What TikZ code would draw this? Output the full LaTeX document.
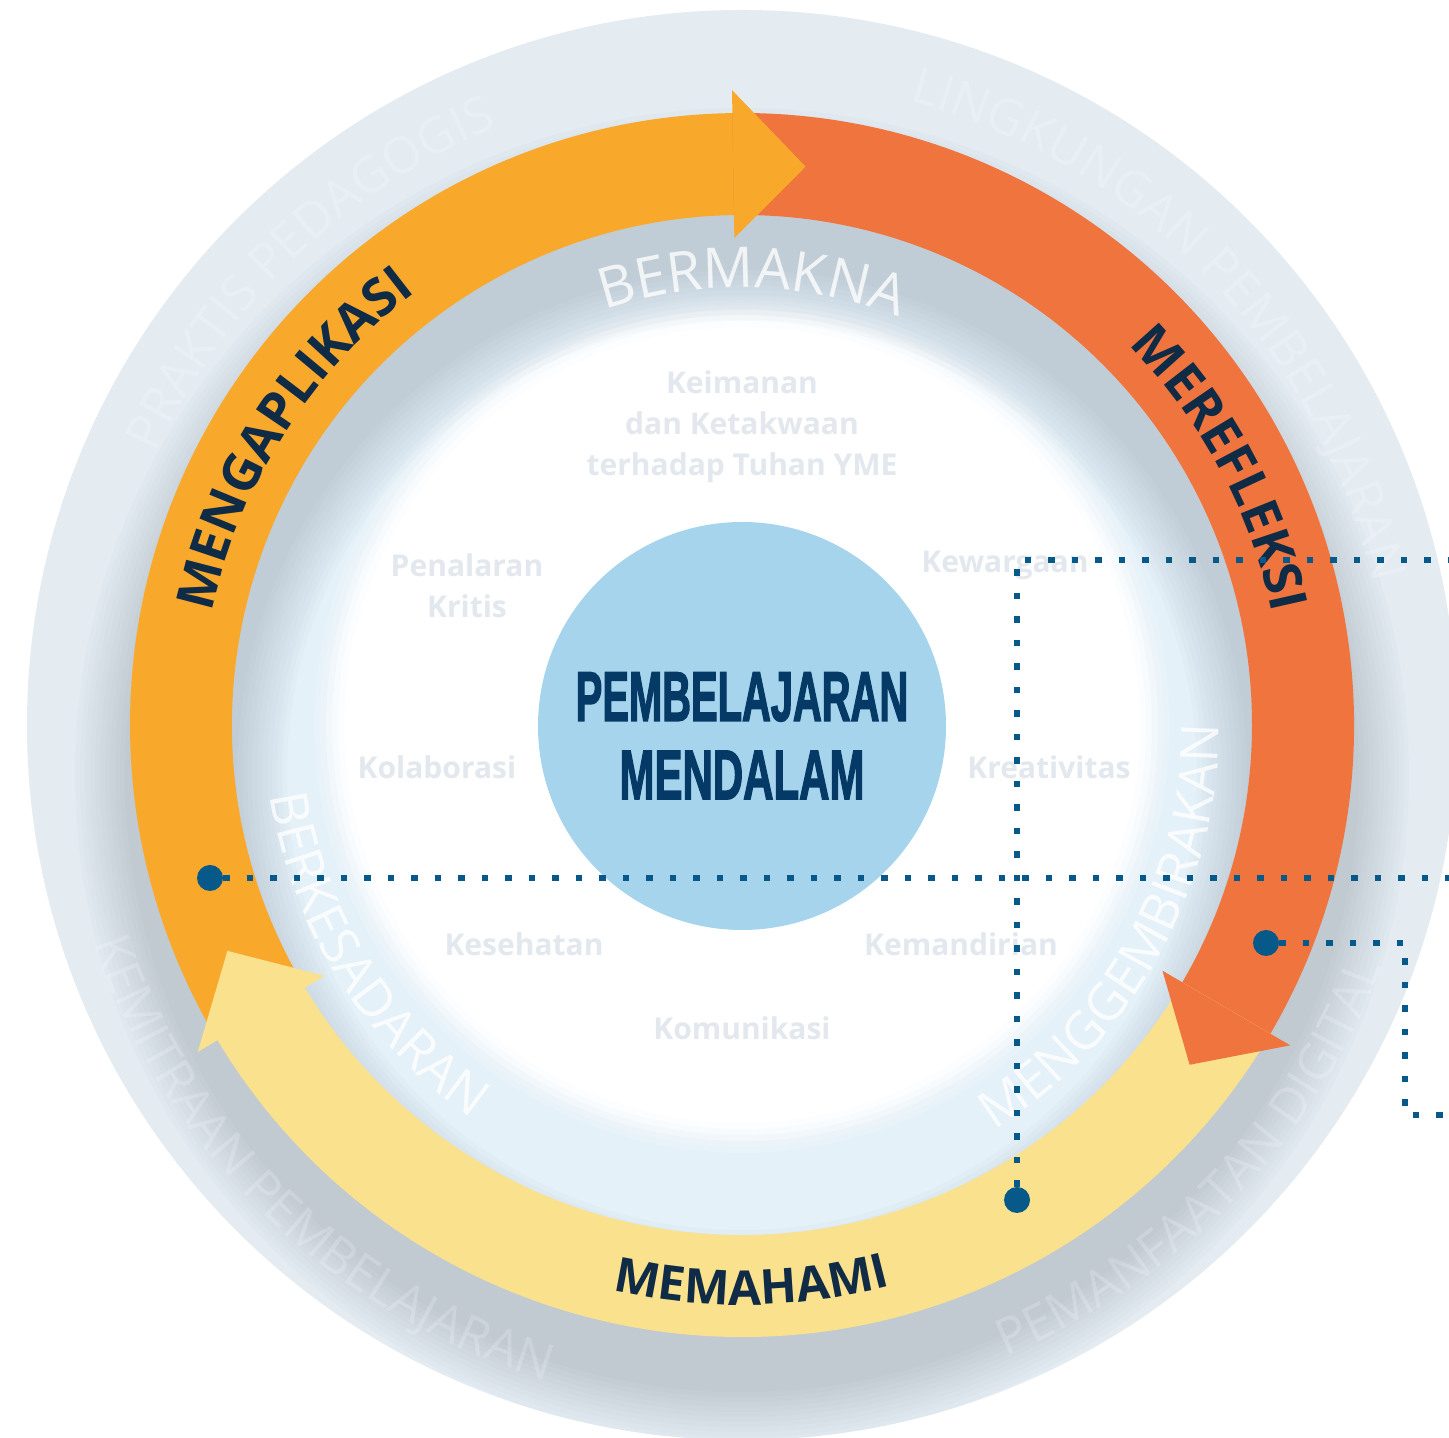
\documentclass[tikz,border=0pt]{standalone}
\usepackage{fontspec}
\setmainfont{Open Sans}
\newfontfamily\condfont[BoldFeatures={FakeBold=2.5}]{Liberation Sans}
\usetikzlibrary{decorations.text}

\definecolor{outerbg}{HTML}{E4ECF2}
\definecolor{bandbg}{HTML}{E4F1F9}
\definecolor{shadowc}{HTML}{7D8893}
\definecolor{amberc}{HTML}{F8A92C}
\definecolor{redc}{HTML}{F0743E}
\definecolor{yellowc}{HTML}{F9E18D}
\definecolor{navy}{HTML}{0F2B46}
\definecolor{centerc}{HTML}{A6D4EC}
\definecolor{centertext}{HTML}{063A66}
\definecolor{dotc}{HTML}{07598A}
\definecolor{greytext}{HTML}{E2E8EE}

\tikzset{
  dotline/.style={draw=dotc, line width=6.5pt, dash pattern=on 6.5pt off 17pt},
  bigdot/.style={circle, fill=dotc, minimum size=26pt, inner sep=0pt},
  glabel/.style={text=greytext, font=\bfseries\fontsize{30}{41}\selectfont, align=center},
  ctext/.style={text=centertext, font=\condfont\bfseries\fontsize{70}{70}\selectfont},
}

\begin{document}
\begin{tikzpicture}[x=1pt,y=1pt]
\useasboundingbox (0,0) rectangle (1449,1438);
\fill[white] (0,0) rectangle (1449,1438);

\begin{scope}[shift={(742,713)}]
  % background discs
  \fill[outerbg] (0,0) circle (715);
  \fill[bandbg] (0,0) circle (512);
  \foreach \r/\o in {428/0.12,422/0.22,416/0.35,410/0.5,404/0.7}
    \fill[white, opacity=\o] (0,0) circle (\r);
  \fill[white] (0,0) circle (398);

  % blurred drop shadow of the arrow ring
  \begin{scope}
    \clip (0,0) circle (715);
    \foreach \b in {5,10,...,55} {
      \pgfmathsetmacro\w{102+2*\b}
      \draw[shadowc, opacity=0.032, line width=\w pt] (0,-50) circle (561);
    }
  \end{scope}

  % arrow bodies
  \fill[amberc] (211:510) arc[start angle=211, end angle=90.6, radius=510]
     -- (90.6:612) arc[start angle=90.6, end angle=211, radius=612] -- cycle;
  \fill[redc] (90.9:510) arc[start angle=90.9, end angle=-30.6, radius=510]
     -- (-30.6:612) arc[start angle=-30.6, end angle=90.9, radius=612] -- cycle;
  \fill[yellowc] (-30.3:510) arc[start angle=-30.3, end angle=-149.3, radius=510]
     -- (-149.3:612) arc[start angle=-149.3, end angle=-30.3, radius=612] -- cycle;

  % arrow heads
  \fill[amberc] (90.9:487) -- (83.5:562) -- (90.9:635) -- cycle;
  \fill[redc] (-30.3:487) -- (-37.2:562) -- (-30.3:635) -- cycle;
  \fill[yellowc] (211:487) -- (203.7:562) -- (211:635) -- cycle;

  % arrow labels
  \path[decorate, decoration={text along path, text align=center,
     text={|\bfseries\fontsize{52}{52}\selectfont\color{navy}|MENGAPLIKASI}}]
     (187.5:542) arc[start angle=187.5, end angle=107.5, radius=542];
  \path[decorate, decoration={text along path, text align=center,
     text={|\bfseries\fontsize{52}{52}\selectfont\color{navy}|MEREFLEKSI}}]
     (68.2:542) arc[start angle=68.2, end angle=-11.8, radius=542];
  \path[decorate, decoration={text along path, text align=center,
     text={|\bfseries\fontsize{48}{48}\selectfont\color{navy}|MEMAHAMI}}]
     (231:580) arc[start angle=231, end angle=311, radius=580];

  % white ring labels
  \begin{scope}[opacity=0.78]
  \path[decorate, decoration={text along path, text align=center,
     text={|\fontsize{56}{56}\selectfont\color{white}|BERMAKNA}}]
     (128.7:437) arc[start angle=128.7, end angle=48.7, radius=437];
  \path[decorate, decoration={text along path, text align=center,
     text={|\fontsize{52}{52}\selectfont\color{white}|BERKESADARAN}}]
     (172:477) arc[start angle=172, end angle=252, radius=477];
  \path[decorate, decoration={text along path, text align=center,
     text={|\fontsize{52}{52}\selectfont\color{white}|MENGGEMBIRAKAN}}]
     (-74:477) arc[start angle=-74, end angle=16, radius=477];
  \end{scope}

  % faint outer ring labels
  \begin{scope}[opacity=0.2]
  \path[decorate, decoration={text along path, text align=center,
     text={|\fontsize{50}{50}\selectfont\color{white}|PRAKTIS PEDAGOGIS}}]
     (178.7:646) arc[start angle=178.7, end angle=88.7, radius=646];
  \path[decorate, decoration={text along path, text align=center,
     text={|\fontsize{50}{50}\selectfont\color{white}|LINGKUNGAN PEMBELAJARAN}}]
     (93.8:646) arc[start angle=93.8, end angle=-6.2, radius=646];
  \path[decorate, decoration={text along path, text align=center,
     text={|\fontsize{50}{50}\selectfont\color{white}|KEMITRAAN PEMBELAJARAN}}]
     (176:684) arc[start angle=176, end angle=276, radius=684];
  \path[decorate, decoration={text along path, text align=center,
     text={|\fontsize{50}{50}\selectfont\color{white}|PEMANFAATAN DIGITAL}}]
     (-94:684) arc[start angle=-94, end angle=6, radius=684];
  \end{scope}
\end{scope}

% centre circle
\node[circle, fill=centerc, minimum size=408pt, inner sep=0pt] (core) at (742,712) {};
\node[ctext] (t1) at (742,741) {\scalebox{0.57}[1]{PEMBELAJARAN}};
\node[ctext] (t2) at (742,663) {\scalebox{0.6}[1]{MENDALAM}};

% grey labels
\node[glabel] (k1) at (742,1011) {Keimanan\\dan Ketakwaan\\terhadap Tuhan YME};
\node[glabel] (k2) at (467,852) {Penalaran\\Kritis};
\node[glabel] (k3) at (1005,873) {Kewargaan};
\node[glabel] (k4) at (437,671) {Kolaborasi};
\node[glabel] (k5) at (1049,671) {Kreativitas};
\node[glabel] (k6) at (524,494) {Kesehatan};
\node[glabel] (k7) at (961,494) {Kemandirian};
\node[glabel] (k8) at (742,410) {Komunikasi};

% dotted callout lines
\node[bigdot] (d1) at (210,560) {};
\node[bigdot] (d2) at (1017,238) {};
\node[bigdot] (d3) at (1266,495) {};
\coordinate (e1) at (1449,560);
\coordinate (e2) at (1449,878);
\coordinate (c3) at (1405,323);
\coordinate (e3) at (1449,323);
\draw[dotline] (d1) -- (e1);
\draw[dotline] (d2) |- (e2);
\draw[dotline] (d3) -| (c3) -- (e3);
\end{tikzpicture}
\end{document}
